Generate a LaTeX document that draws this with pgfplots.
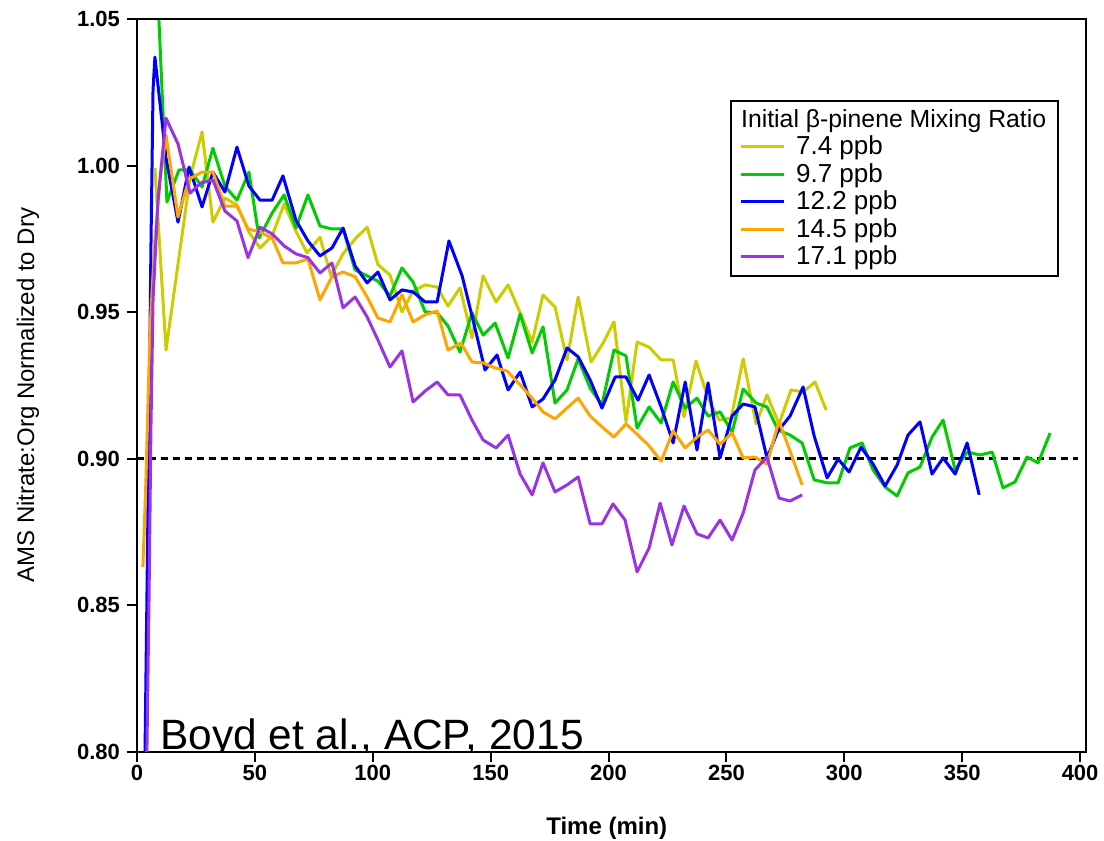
\documentclass[border=0pt]{standalone}
\usepackage{fontspec}
\setmainfont{Liberation Sans}
\usepackage{pgfplots}
\pgfplotsset{compat=1.18}
\definecolor{cyel}{RGB}{204,204,0}
\definecolor{cgrn}{RGB}{0,204,0}
\definecolor{cblu}{RGB}{0,0,255}
\definecolor{cora}{RGB}{255,165,0}
\definecolor{cpur}{RGB}{153,51,230}
\pgfplotsset{myline/.style={line width=1.5pt, line join=round, legend image code/.code={\draw[##1] (0pt,0pt) -- (21.5pt,0pt); \path (25pt,0pt);}}}
\begin{document}
\begin{tikzpicture}
\useasboundingbox (-68.5pt,-44.5pt) rectangle (483.5pt,376pt);
\begin{axis}[
  at={(0pt,0pt)}, anchor=south west,
  scale only axis, width=474.5pt, height=366.5pt,
  xmin=0, xmax=402.5, ymin=0.80, ymax=1.05,
  xtick={0,50,...,400},
  ytick={0.80,0.85,0.90,0.95,1.00,1.05},
  yticklabel style={/pgf/number format/fixed, /pgf/number format/fixed zerofill, /pgf/number format/precision=2},
  xticklabel style={yshift=2pt},
  /pgf/number format/assume math mode=true,
  ticklabel style={font=\bfseries\fontsize{11}{13}\selectfont},
  tick align=outside, major tick length=5pt,
  xtick pos=bottom, ytick pos=left,
  minor tick num=0,
  axis line style={line width=1pt},
  every tick/.style={black, line width=1pt},
  xlabel={\bfseries Time (min)},
  ylabel={AMS Nitrate:Org Normalized to Dry},
  label style={font=\fontsize{12}{14}\selectfont},
  xlabel style={at={(axis description cs:0.495,-0.1037)}, anchor=center},
  ylabel style={at={(axis description cs:-0.1149,0.487)}, anchor=center},
  legend style={at={(0.625,0.889)}, anchor=north west, draw=black, line width=1pt,
    font=\fontsize{13}{14}\selectfont, inner xsep=4pt, inner ysep=2pt, row sep=-1.2pt},
  legend cell align=left,
]
\addlegendimage{empty legend}
\addlegendentry{\hspace{-27.5pt}\raisebox{0pt}[9pt][12pt]{\fontsize{12.4}{14}\selectfont Initial β-pinene Mixing Ratio}}

\addplot[black, line width=1.5pt, dash pattern=on 3.5pt off 2.5pt, forget plot] coordinates {(0,0.90) (399,0.90)};

\addplot[myline, cyel] coordinates {
(7.6,0.9992) (12.3,0.9371) (22.5,0.9958) (27.6,1.0115) (32.2,0.9807) (37.3,0.9889)
(42.4,0.9866) (47.5,0.9773) (52.2,0.9719) (57.3,0.9760) (62.4,0.9869) (67.4,0.9777)
(72.1,0.9702) (77.6,0.9756) (82.3,0.9624) (87.4,0.9699) (92.5,0.9750) (97.6,0.9790)
(102.2,0.9662) (107.3,0.9627) (112.4,0.9501) (117.1,0.9572) (122.2,0.9593) (127.3,0.9586)
(131.9,0.9521) (137.0,0.9583) (142.1,0.9412) (146.8,0.9624) (152.3,0.9535) (157.4,0.9593)
(162.5,0.9498) (167.6,0.9398) (172.2,0.9559) (177.3,0.9518) (182.4,0.9337) (187.1,0.9552)
(192.6,0.9330) (197.7,0.9395) (202.3,0.9467) (207.4,0.9126) (212.1,0.9398) (217.2,0.9381)
(222.3,0.9337) (227.4,0.9337) (232.0,0.9143) (237.1,0.9334) (242.2,0.9207) (246.9,0.9132)
(252.0,0.9139) (257.1,0.9341) (262.6,0.9119) (267.2,0.9218) (272.3,0.9119) (277.4,0.9235)
(282.5,0.9228) (287.6,0.9262) (292.3,0.9166)
};
\addlegendentry{7.4 ppb}

\addplot[myline, cgrn] coordinates {
(9.3,1.0497) (12.7,0.9876) (17.8,0.9985) (22.5,0.9985) (27.6,0.9927) (32.2,1.0059)
(37.3,0.9930) (42.4,0.9882) (47.5,0.9978) (51.8,0.9753) (57.3,0.9838) (62.4,0.9900)
(67.4,0.9787) (72.5,0.9900) (77.6,0.9794) (82.7,0.9784) (87.4,0.9784) (92.5,0.9644)
(97.6,0.9624) (102.2,0.9606) (107.3,0.9555) (112.4,0.9651) (117.1,0.9603) (122.2,0.9501)
(127.3,0.9498) (131.9,0.9453) (137.0,0.9364) (142.1,0.9498) (146.8,0.9422) (151.9,0.9463)
(157.4,0.9344) (162.5,0.9494) (167.6,0.9361) (172.2,0.9450) (177.3,0.9190) (182.4,0.9235)
(187.1,0.9341) (192.2,0.9241) (197.2,0.9184) (202.3,0.9371) (207.4,0.9351) (212.1,0.9105)
(217.2,0.9177) (222.3,0.9122) (227.4,0.9262) (232.5,0.9173) (237.5,0.9207) (242.2,0.9146)
(247.3,0.9160) (252.4,0.9091) (257.1,0.9238) (262.6,0.9190) (267.2,0.9177) (271.9,0.9098)
(277.0,0.9081) (282.1,0.9054) (287.2,0.8928) (292.7,0.8918) (297.4,0.8918) (302.4,0.9037)
(307.5,0.9054) (312.2,0.8962) (317.3,0.8904) (322.4,0.8873) (327.0,0.8952) (332.1,0.8972)
(337.2,0.9074) (341.9,0.9132) (347.0,0.8962) (352.1,0.9023) (357.6,0.9013) (362.7,0.9023)
(367.3,0.8901) (372.4,0.8921) (377.5,0.9006) (382.2,0.8986) (387.3,0.9088)
};
\addlegendentry{9.7 ppb}

\addplot[myline, cblu] coordinates {
(3.4,0.8000) (4.2,0.8518) (5.1,0.9132) (5.9,0.9712) (6.8,1.0258) (7.6,1.0370)
(12.3,1.0026) (17.4,0.9807) (22.1,0.9995) (27.6,0.9859) (32.2,0.9978) (37.3,0.9910)
(42.4,1.0063) (47.5,0.9930) (52.2,0.9882) (57.3,0.9882) (61.9,0.9965) (67.4,0.9814)
(72.5,0.9743) (77.6,0.9692) (82.7,0.9719) (87.4,0.9787) (92.5,0.9658) (97.6,0.9600)
(102.2,0.9637) (107.3,0.9542) (112.4,0.9576) (117.1,0.9569) (122.2,0.9535) (127.3,0.9535)
(132.3,0.9743) (137.9,0.9624) (142.5,0.9474) (147.6,0.9303) (152.7,0.9354) (157.4,0.9235)
(162.5,0.9296) (167.6,0.9177) (172.2,0.9204) (177.3,0.9269) (182.4,0.9378) (187.1,0.9348)
(192.2,0.9269) (197.2,0.9173) (202.8,0.9279) (207.4,0.9279) (212.5,0.9200) (217.2,0.9286)
(222.3,0.9177) (227.4,0.9054) (232.5,0.9262) (237.5,0.9030) (242.2,0.9259) (247.3,0.9003)
(252.4,0.9146) (257.1,0.9187) (262.1,0.9177) (267.2,0.9003) (271.9,0.9095) (277.0,0.9146)
(282.5,0.9245) (287.2,0.9078) (292.7,0.8935) (297.4,0.8999) (302.0,0.8955) (307.1,0.9040)
(312.2,0.8982) (317.3,0.8907) (322.4,0.8979) (327.0,0.9081) (332.1,0.9126) (337.2,0.8948)
(341.9,0.9003) (347.0,0.8948) (352.1,0.9054) (357.2,0.8877)
};
\addlegendentry{12.2 ppb}

\addplot[myline, cora] coordinates {
(2.5,0.8631) (3.8,0.8928) (5.5,0.9439) (7.6,0.9746) (9.8,0.9951) (12.3,1.0104)
(17.4,0.9825) (22.1,0.9954) (27.6,0.9978) (32.2,0.9978) (37.3,0.9862) (42.4,0.9862)
(47.1,0.9784) (52.2,0.9773) (57.3,0.9753) (61.9,0.9668) (67.4,0.9668) (72.5,0.9682)
(77.6,0.9542) (82.7,0.9621) (87.4,0.9637) (92.5,0.9621) (97.6,0.9552) (102.2,0.9480)
(107.3,0.9467) (112.4,0.9559) (117.1,0.9467) (122.2,0.9491) (127.3,0.9504) (131.9,0.9371)
(137.4,0.9395) (142.1,0.9330) (146.8,0.9327) (151.9,0.9310) (157.0,0.9299) (162.5,0.9252)
(167.6,0.9207) (172.2,0.9160) (177.3,0.9136) (182.4,0.9173) (187.1,0.9207) (192.2,0.9146)
(197.2,0.9109) (202.3,0.9074) (207.4,0.9119) (212.5,0.9081) (217.2,0.9044) (222.3,0.8992)
(227.4,0.9095) (232.5,0.9037) (237.5,0.9074) (242.2,0.9098) (247.3,0.9050) (252.4,0.9088)
(257.1,0.9003) (262.1,0.9006) (267.2,0.8982) (272.3,0.9129) (277.0,0.9026) (282.1,0.8911)
};
\addlegendentry{14.5 ppb}

\addplot[myline, cpur] coordinates {
(4.2,0.8000) (5.1,0.8518) (5.9,0.9098) (6.8,0.9542) (8.9,0.9882) (12.3,1.0162)
(17.4,1.0074) (22.5,0.9906) (27.1,0.9941) (32.2,0.9951) (37.3,0.9845) (42.4,0.9811)
(47.1,0.9686) (52.2,0.9790) (57.3,0.9767) (62.4,0.9726) (67.4,0.9699) (72.5,0.9686)
(77.6,0.9634) (82.7,0.9668) (87.4,0.9515) (92.5,0.9552) (97.6,0.9484) (102.2,0.9405)
(107.3,0.9313) (112.4,0.9368) (117.1,0.9194) (122.2,0.9231) (127.3,0.9262) (131.9,0.9218)
(137.0,0.9218) (142.1,0.9132) (146.8,0.9064) (152.3,0.9037) (157.4,0.9081) (162.5,0.8948)
(167.6,0.8877) (172.2,0.8986) (177.3,0.8887) (182.4,0.8911) (187.1,0.8938) (192.2,0.8778)
(197.2,0.8778) (201.9,0.8846) (207.0,0.8791) (212.1,0.8614) (217.2,0.8696) (221.9,0.8849)
(226.9,0.8706) (232.0,0.8839) (237.5,0.8744) (242.2,0.8730) (247.3,0.8791) (252.4,0.8723)
(257.1,0.8815) (262.1,0.8962) (267.2,0.9006) (272.3,0.8866) (277.0,0.8856) (282.1,0.8877)
};
\addlegendentry{17.1 ppb}

\node[anchor=base west, font=\fontsize{21.2}{25}\selectfont, inner sep=0pt] at (rel axis cs:0.024,0.003) {Boyd et al., ACP, 2015};
\end{axis}
\end{tikzpicture}
\end{document}
